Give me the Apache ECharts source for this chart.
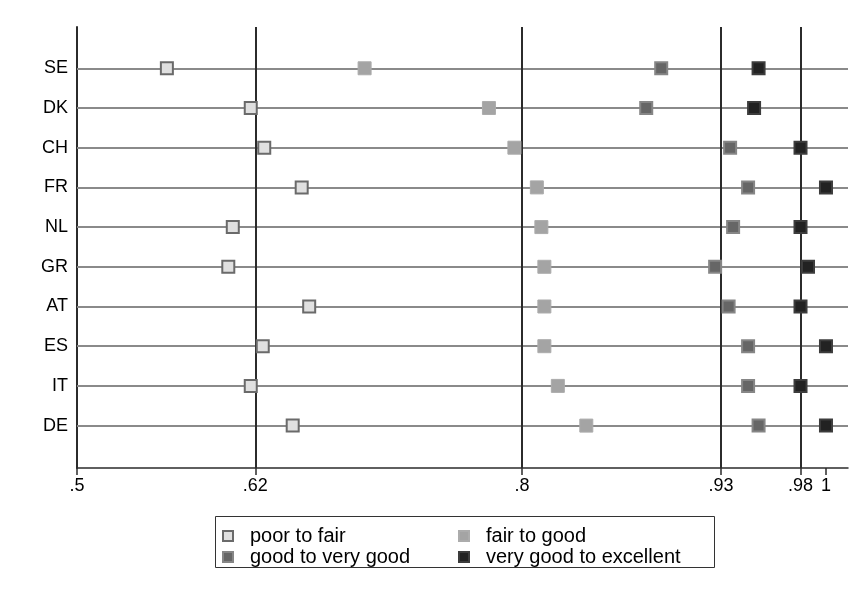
<!DOCTYPE html>
<html>
<head>
<meta charset="utf-8">
<script src="https://cdn.jsdelivr.net/npm/echarts@6/dist/echarts.min.js"></script>
<style>
  html, body { margin: 0; padding: 0; background: #fff; }
  #chart { width: 858px; height: 606px; }
</style>
</head>
<body>
<div id="chart"></div>
<script>
// Countries, top to bottom
const countries = ['SE', 'DK', 'CH', 'FR', 'NL', 'GR', 'AT', 'ES', 'IT', 'DE'];

// Estimated thresholds per country for each transition of self-rated health
const poorToFair      = [0.560, 0.616, 0.625, 0.650, 0.604, 0.601, 0.655, 0.624, 0.616, 0.644];
const fairToGood      = [0.692, 0.775, 0.792, 0.807, 0.810, 0.812, 0.812, 0.812, 0.821, 0.840];
const goodToVeryGood  = [0.890, 0.880, 0.936, 0.948, 0.938, 0.926, 0.935, 0.948, 0.948, 0.955];
const veryGoodToExc   = [0.955, 0.952, 0.983, 1.000, 0.983, 0.988, 0.983, 1.000, 0.983, 1.000];

// Reference cut points drawn as vertical lines, and the x-axis tick labels
const refLines   = [0.619, 0.797, 0.930, 0.983];
const tickValues = [0.5, 0.619, 0.797, 0.930, 0.983, 1.0];
const tickLabels = ['.5', '.62', '.8', '.93', '.98', '1'];

const seriesNames = ['poor to fair', 'fair to good', 'good to very good', 'very good to excellent'];

const FONT = 'Liberation Sans, Arial, sans-serif';

function toPoints(values) {
  return values.map((v, i) => [v, i + 1]);
}

const markerStyles = [
  { size: 12, style: { color: '#e0e0e0', borderColor: '#6a6a6a', borderWidth: 2 } },
  { size: 13, style: { color: '#a4a4a4', borderColor: '#acacac', borderWidth: 1 } },
  { size: 12, style: { color: '#666666', borderColor: '#868686', borderWidth: 2 } },
  { size: 12, style: { color: '#222222', borderColor: '#3c3c3c', borderWidth: 2 } }
];

const seriesData = [poorToFair, fairToGood, goodToVeryGood, veryGoodToExc];

const chart = echarts.init(document.getElementById('chart'), null, { renderer: 'canvas' });

const scatterSeries = seriesData.map((vals, k) => ({
  name: seriesNames[k],
  type: 'scatter',
  symbol: 'rect',
  symbolSize: markerStyles[k].size,
  z: 5,
  itemStyle: Object.assign({ opacity: 1 }, markerStyles[k].style),
  data: toPoints(vals)
}));

// Helper series carrying the row lines and the cut-point lines
const guideSeries = {
  name: 'guides',
  type: 'scatter',
  data: [],
  silent: true,
  z: 1,
  markLine: {
    silent: true,
    symbol: 'none',
    precision: 4,
    animation: false,
    label: { show: false },
    data: countries.map((c, i) => ({
      yAxis: i + 1,
      lineStyle: { color: '#8a8a8a', width: 2, type: 'solid' }
    })).concat(refLines.map(v => ({
      xAxis: v,
      lineStyle: { color: '#2b2b2b', width: 2, type: 'solid' }
    })))
  }
};

const legendText = { fontSize: 20, color: '#000', fontFamily: FONT, lineHeight: 20, padding: [0, 0, 0, 12] };

const option = {
  animation: false,
  backgroundColor: '#ffffff',
  textStyle: { fontFamily: FONT },
  grid: { left: 77, right: 10, top: 27, bottom: 138, containLabel: false },
  xAxis: {
    type: 'value',
    min: 0.5,
    max: 1.0147,
    splitLine: { show: false },
    axisLine: { show: true, onZero: false, lineStyle: { color: '#2b2b2b', width: 1.5 } },
    axisTick: {
      show: true,
      customValues: tickValues,
      length: 7,
      lineStyle: { color: '#2b2b2b', width: 1.5 }
    },
    axisLabel: {
      customValues: tickValues,
      margin: 9,
      color: '#000',
      fontSize: 18,
      fontFamily: FONT,
      formatter: function (value) {
        let best = 0;
        tickValues.forEach((t, i) => {
          if (Math.abs(t - value) < Math.abs(tickValues[best] - value)) best = i;
        });
        return tickLabels[best];
      }
    }
  },
  yAxis: {
    type: 'value',
    min: -0.04,
    max: 11.068,
    inverse: true,
    splitLine: { show: false },
    axisLine: { show: true, onZero: false, lineStyle: { color: '#2b2b2b', width: 2 } },
    axisTick: { show: false },
    axisLabel: {
      customValues: countries.map((c, i) => i + 1),
      margin: 9,
      color: '#000',
      fontSize: 18,
      fontFamily: FONT,
      formatter: function (value) {
        return countries[Math.round(value) - 1] || '';
      }
    }
  },
  legend: [
    {
      data: [seriesNames[0], seriesNames[2]],
      orient: 'vertical',
      left: 222,
      top: 526,
      padding: 0,
      itemGap: 1,
      itemWidth: 10,
      itemHeight: 10,
      selectedMode: false,
      textStyle: legendText
    },
    {
      data: [seriesNames[1], seriesNames[3]],
      orient: 'vertical',
      left: 458,
      top: 526,
      padding: 0,
      itemGap: 1,
      itemWidth: 10,
      itemHeight: 10,
      selectedMode: false,
      textStyle: legendText
    }
  ],
  graphic: [
    {
      type: 'rect',
      left: 213,
      top: 514,
      shape: { width: 499, height: 51 },
      style: { fill: 'none', stroke: '#333', lineWidth: 1 },
      silent: true
    }
  ],
  series: [guideSeries].concat(scatterSeries)
};

chart.setOption(option);
</script>
</body>
</html>
